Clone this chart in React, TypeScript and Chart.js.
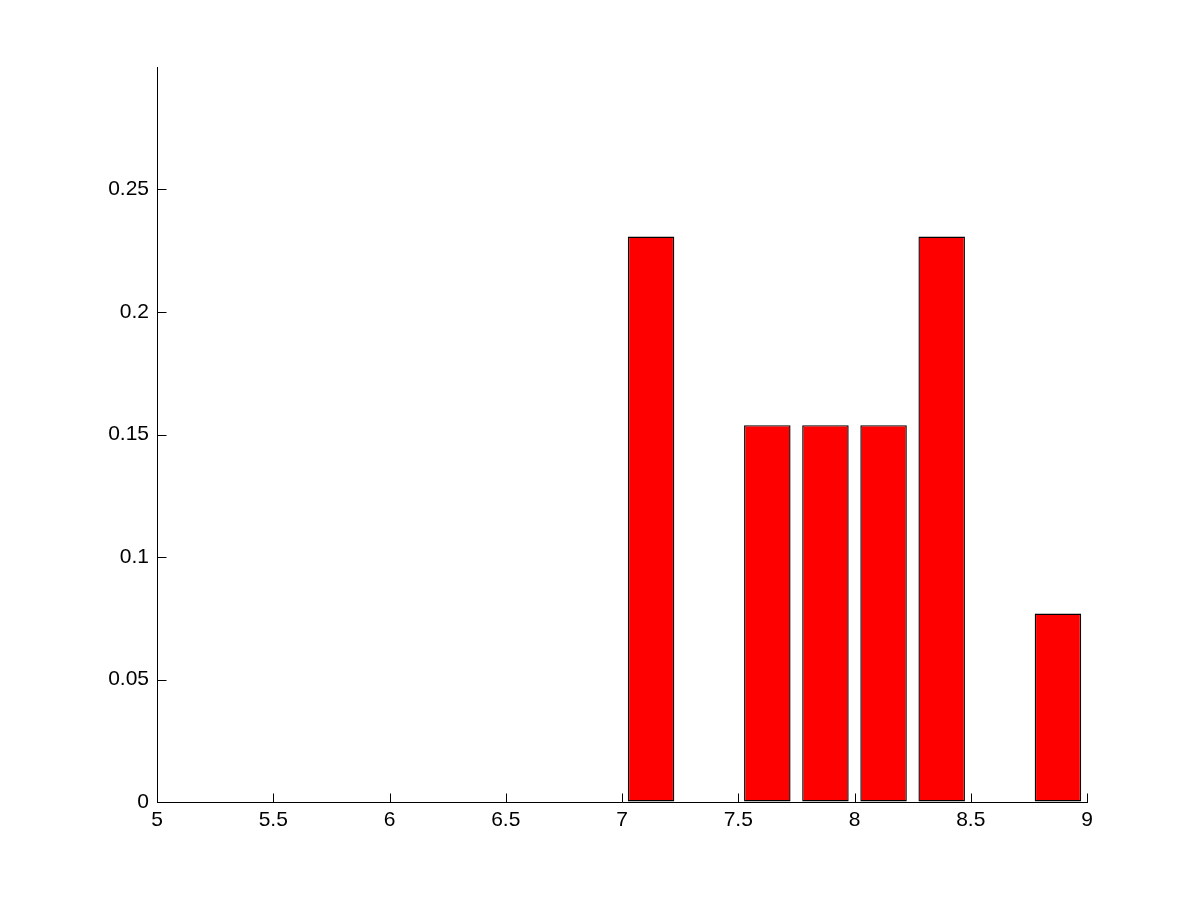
import React, { useEffect, useRef } from "react";
import { Chart, registerables } from "chart.js";

Chart.register(...registerables);

// Bin centres (x) and relative frequencies (y) of the histogram
const binCenters = [7.125, 7.375, 7.625, 7.875, 8.125, 8.375, 8.625, 8.875];
const frequencies = [0.2308, 0, 0.1538, 0.1538, 0.1538, 0.2308, 0, 0.0769];

const xMin = 5;
const xMax = 9;
const xStep = 0.5;
const yMin = 0;
const yMax = 0.3;
const yStep = 0.05;
const yTickValues = [0, 0.05, 0.1, 0.15, 0.2, 0.25];

const FONT = { family: "'Liberation Sans', Arial, sans-serif", size: 21 };

const fmt = (v: any) => String(parseFloat(Number(v).toFixed(2)));

const innerTicks = {
  id: "innerTicks",
  beforeDatasetsDraw(chart: any) {
    const ctx = chart.ctx;
    const xs = chart.scales.x;
    const ys = chart.scales.y;
    const area = chart.chartArea;
    const len = 9;
    ctx.save();
    ctx.strokeStyle = "#000";
    ctx.lineWidth = 1;
    ctx.beginPath();
    xs.ticks.forEach((t: any) => {
      const px = Math.round(xs.getPixelForValue(t.value)) + 0.5;
      const by = Math.round(area.bottom) + 0.5;
      ctx.moveTo(px, by);
      ctx.lineTo(px, by - len);
    });
    ys.ticks.forEach((t: any) => {
      const py = Math.round(ys.getPixelForValue(t.value)) + 0.5;
      const lx = Math.round(area.left) + 0.5;
      ctx.moveTo(lx, py);
      ctx.lineTo(lx + len, py);
    });
    ctx.stroke();
    ctx.restore();
  },
};

export default function App() {
  const ref = useRef<HTMLCanvasElement | null>(null);

  useEffect(() => {
    document.body.style.margin = "0";
    if (!ref.current) return;
    const chart = new Chart(ref.current, {
      type: "bar",
      data: {
        datasets: [
          {
            data: binCenters.map((x, i) => ({ x, y: frequencies[i] })),
            backgroundColor: "#ff0000",
            borderColor: "#000000",
            borderWidth: 1.4,
            borderSkipped: false,
            barPercentage: 0.8,
            categoryPercentage: 1,
          },
        ],
      },
      options: {
        animation: false,
        responsive: false,
        maintainAspectRatio: false,
        layout: { padding: { top: 67, right: 114, left: 0, bottom: 0 } },
        plugins: { legend: { display: false }, tooltip: { enabled: false } },
        scales: {
          x: {
            type: "linear",
            min: xMin,
            max: xMax,
            offset: false,
            grid: { display: true, offset: false, drawOnChartArea: false, drawTicks: false },
            border: { display: true, color: "#000", width: 1 },
            ticks: {
              stepSize: xStep,
              color: "#000",
              font: FONT,
              padding: 6,
              maxRotation: 0,
              autoSkip: false,
              callback: fmt,
            },
            afterFit: (s: any) => {
              s.height = 901 - 802;
            },
          },
          y: {
            type: "linear",
            min: yMin,
            max: yMax,
            grid: { display: true, drawOnChartArea: false, drawTicks: false },
            border: { display: true, color: "#000", width: 1 },
            ticks: {
              stepSize: yStep,
              color: "#000",
              font: FONT,
              padding: 8,
              callback: fmt,
            },
            afterBuildTicks: (s: any) => {
              s.ticks = yTickValues.map((v) => ({ value: v }));
            },
            afterFit: (s: any) => {
              s.width = 157;
            },
          },
        },
      },
      plugins: [innerTicks],
    });
    return () => chart.destroy();
  }, []);

  return (
    <div style={{ position: "absolute", left: 0, top: 0, width: 1201, height: 901, background: "#fff" }}>
      <canvas ref={ref} width={1201} height={901} style={{ display: "block" }} />
    </div>
  );
}
